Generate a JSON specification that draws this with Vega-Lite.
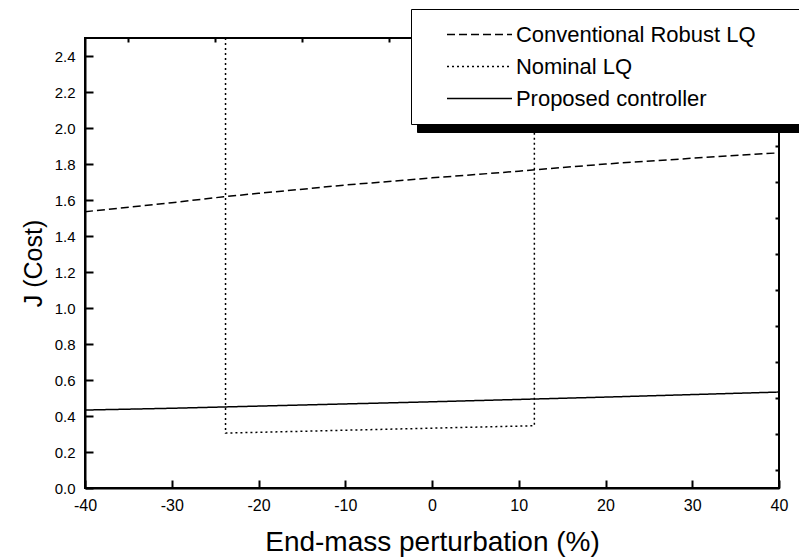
{
  "$schema": "https://vega.github.io/schema/vega-lite/v6.json",
  "width": 694,
  "height": 450,
  "autosize": "none",
  "padding": {"left": 85, "top": 38, "right": 20, "bottom": 70},
  "background": "white",
  "config": {
    "font": "Liberation Sans",
    "view": {"stroke": "black", "strokeWidth": 2},
    "axis": {"grid": false, "labelFlush": false, "domainColor": "black", "domainWidth": 2, "tickColor": "black", "tickWidth": 2, "labelColor": "black", "titleColor": "black", "labelFont": "Liberation Sans", "titleFont": "Liberation Sans", "titleFontWeight": "normal"}
  },
  "data": {"values": [
    {"series": "Conventional Robust LQ", "pt": 1, "perturbation": -40, "cost": 1.535},
    {"series": "Conventional Robust LQ", "pt": 2, "perturbation": -30, "cost": 1.585},
    {"series": "Conventional Robust LQ", "pt": 3, "perturbation": -24, "cost": 1.618},
    {"series": "Conventional Robust LQ", "pt": 4, "perturbation": -20, "cost": 1.637},
    {"series": "Conventional Robust LQ", "pt": 5, "perturbation": -10, "cost": 1.683},
    {"series": "Conventional Robust LQ", "pt": 6, "perturbation": 0, "cost": 1.723},
    {"series": "Conventional Robust LQ", "pt": 7, "perturbation": 10, "cost": 1.760},
    {"series": "Conventional Robust LQ", "pt": 8, "perturbation": 20, "cost": 1.800},
    {"series": "Conventional Robust LQ", "pt": 9, "perturbation": 30, "cost": 1.832},
    {"series": "Conventional Robust LQ", "pt": 10, "perturbation": 40, "cost": 1.862},
    {"series": "Nominal LQ", "pt": 1, "perturbation": -23.8, "cost": 2.5},
    {"series": "Nominal LQ", "pt": 2, "perturbation": -23.8, "cost": 0.305},
    {"series": "Nominal LQ", "pt": 3, "perturbation": 11.8, "cost": 0.346},
    {"series": "Nominal LQ", "pt": 4, "perturbation": 11.8, "cost": 2.5},
    {"series": "Proposed controller", "pt": 1, "perturbation": -40, "cost": 0.433},
    {"series": "Proposed controller", "pt": 2, "perturbation": -30, "cost": 0.443},
    {"series": "Proposed controller", "pt": 3, "perturbation": -20, "cost": 0.455},
    {"series": "Proposed controller", "pt": 4, "perturbation": -10, "cost": 0.467},
    {"series": "Proposed controller", "pt": 5, "perturbation": 0, "cost": 0.479},
    {"series": "Proposed controller", "pt": 6, "perturbation": 10, "cost": 0.492},
    {"series": "Proposed controller", "pt": 7, "perturbation": 20, "cost": 0.505},
    {"series": "Proposed controller", "pt": 8, "perturbation": 30, "cost": 0.519},
    {"series": "Proposed controller", "pt": 9, "perturbation": 40, "cost": 0.533}
  ]},
  "layer": [
    {
      "mark": {"type": "line", "color": "black", "strokeWidth": 1.5, "clip": true},
      "encoding": {
        "x": {"field": "perturbation", "type": "quantitative", "scale": {"domain": [-40, 40], "nice": false, "zero": false},
          "axis": {"values": [-40, -30, -20, -10, 0, 10, 20, 30, 40], "tickSize": -8, "labelPadding": 17, "labelFontSize": 16, "labelExpr": "datum.value + ''", "title": "End-mass perturbation (%)", "titleFontSize": 28, "titlePadding": 15}},
        "y": {"field": "cost", "type": "quantitative", "scale": {"domain": [0, 2.5], "nice": false},
          "axis": {"values": [0, 0.2, 0.4, 0.6, 0.8, 1.0, 1.2, 1.4, 1.6, 1.8, 2.0, 2.2, 2.4], "format": ".1f", "tickSize": -8, "labelPadding": 18, "labelFontSize": 15, "title": "J (Cost)", "titleFontSize": 25, "titlePadding": 8}},
        "strokeDash": {"field": "series", "type": "nominal",
          "scale": {"domain": ["Conventional Robust LQ", "Nominal LQ", "Proposed controller"], "range": [[8, 4], [2, 3], [1, 0]]},
          "legend": {"title": "\u00a0", "titleOrient": "right", "titlePadding": 90, "orient": "none", "legendX": 326, "legendY": -29, "zindex": 2, "fillColor": "white", "strokeColor": "black", "padding": 14.5, "symbolType": "M-4,0H4", "symbolSize": 264, "symbolStrokeWidth": 1.5, "symbolStrokeColor": "black", "symbolFillColor": "transparent", "symbolOffset": 43, "labelFontSize": 22, "labelFont": "Liberation Sans", "labelColor": "black", "labelOffset": 25.4, "rowPadding": 10, "labelLimit": 400}},
        "order": {"field": "pt", "type": "quantitative"}
      }
    },
    {
      "transform": [{"calculate": "datum.series", "as": "shadow"}],
      "mark": {"type": "point", "filled": true, "opacity": 0, "clip": true},
      "encoding": {
        "x": {"field": "perturbation", "type": "quantitative", "scale": {"domain": [-40, 40], "nice": false, "zero": false},
          "axis": {"values": [-35, -25, -15, -5, 5, 15, 25, 35], "tickSize": -4, "labels": false, "domain": false, "title": null}},
        "y": {"field": "cost", "type": "quantitative", "scale": {"domain": [0, 2.5], "nice": false},
          "axis": {"values": [0.1, 0.3, 0.5, 0.7, 0.9, 1.1, 1.3, 1.5, 1.7, 1.9, 2.1, 2.3], "tickSize": -4, "labels": false, "domain": false, "title": null}},
        "color": {"field": "shadow", "type": "nominal", "scale": {"range": ["black", "black", "black"]},
          "legend": {"title": "\u00a0", "titleOrient": "right", "titlePadding": 350, "orient": "none", "legendX": 332, "legendY": -21, "zindex": 1, "fillColor": "black", "strokeColor": "black", "padding": 14.5, "symbolType": "M-4,0H4", "symbolSize": 264, "symbolStrokeWidth": 1.5, "symbolOffset": 43, "labelFontSize": 22, "labelFont": "Liberation Sans", "labelColor": "black", "labelOffset": 25.4, "labelExpr": "'\u00a0'", "rowPadding": 10, "labelLimit": 400}}
      }
    }
  ],
  "resolve": {"axis": {"x": "independent", "y": "independent"}}
}
